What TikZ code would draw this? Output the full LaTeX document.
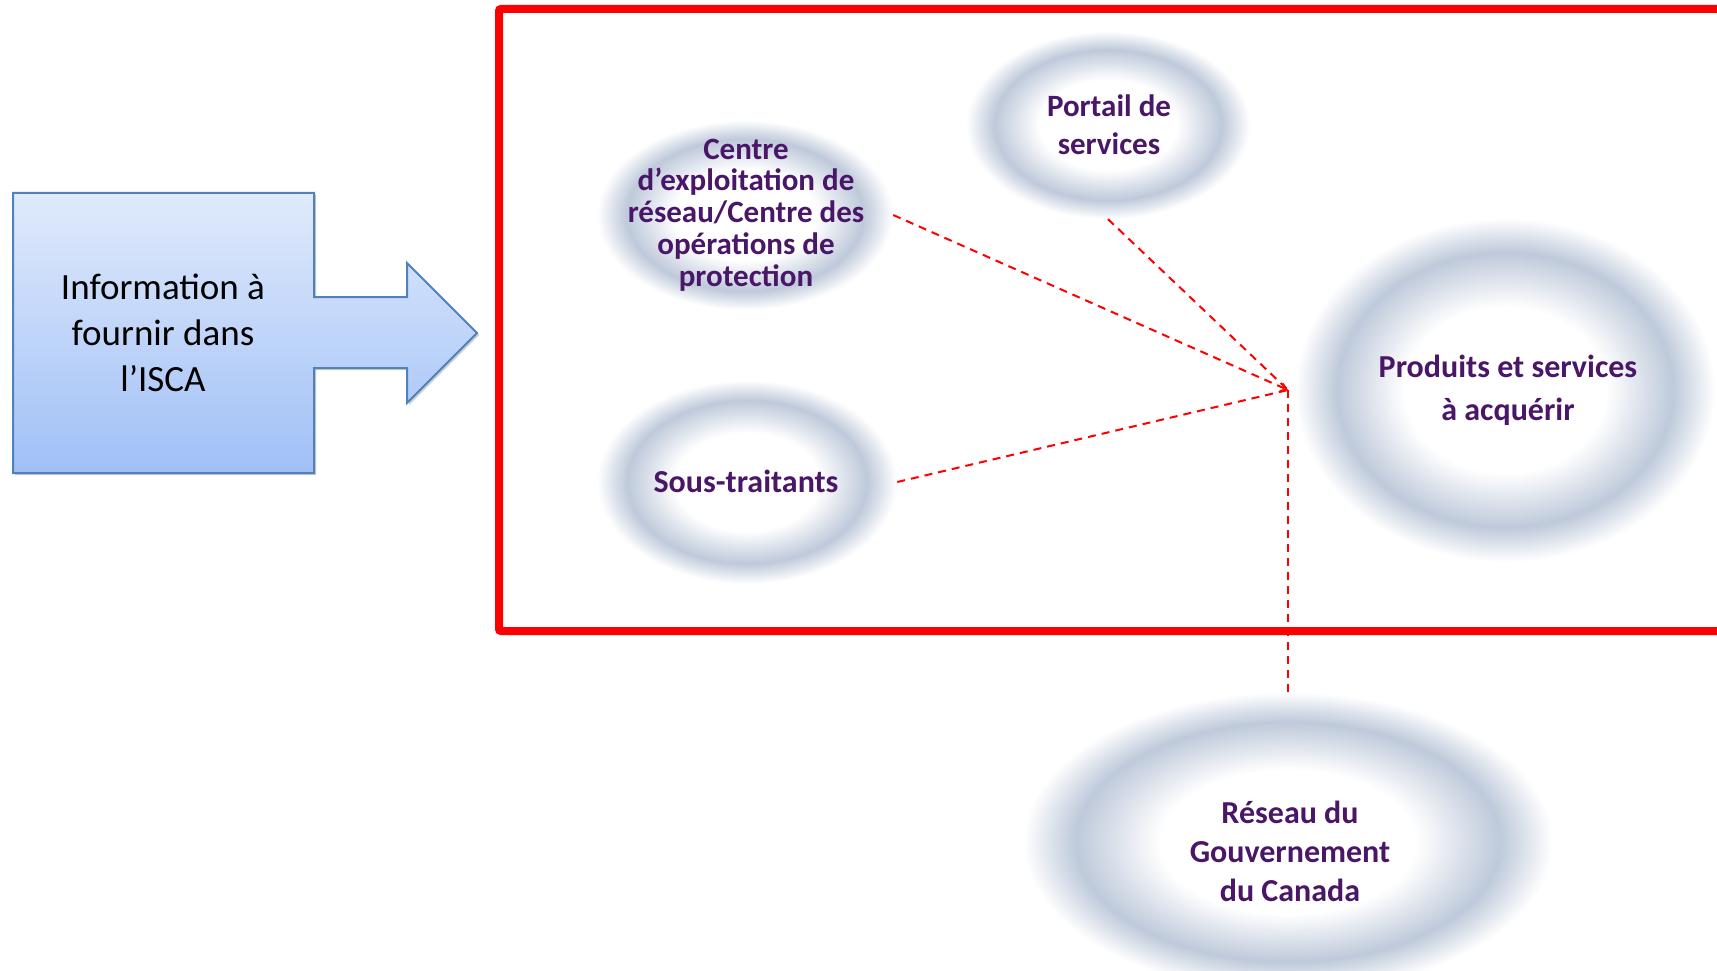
\documentclass[tikz,border=0pt]{standalone}
\usepackage{fontspec}
\setmainfont{Carlito}
\usetikzlibrary{shapes.geometric,arrows.meta,shadows}
\definecolor{glowc}{RGB}{190,201,218}
\definecolor{txtpurple}{RGB}{74,22,104}
\definecolor{boxtop}{RGB}{224,234,252}
\definecolor{boxbot}{RGB}{160,192,246}
\definecolor{boxline}{RGB}{79,129,189}
\pgfdeclareradialshading{glowshade}{\pgfpointorigin}{color(0bp)=(white); color(12bp)=(white); color(20bp)=(glowc); color(25bp)=(white); color(50bp)=(white)}
\begin{document}
\begin{tikzpicture}[x=1pt,y=-1pt,
  bubble/.style={ellipse, draw=none, shade, shading=glowshade, inner sep=0pt},
  lbl/.style={font=\bfseries\fontsize{32}{40}\selectfont, text=txtpurple, align=center},
  link/.style={draw=red, line width=2pt, dash pattern=on 8pt off 6pt},
  redframe/.style={draw=red, line width=8pt, rounded corners=2pt},
  bigarrow/.style={draw=boxline, line width=2pt, top color=boxtop, bottom color=boxbot,
    drop shadow={shadow xshift=2pt, shadow yshift=-2pt, opacity=0.2, fill=black}}]
\useasboundingbox (0,0) rectangle (1717,971);
\fill[white] (0,0) rectangle (1717,971);

% glow ellipses
\node[bubble, minimum width=296pt, minimum height=190pt] (centre) at (745,215) {};
\node[bubble, minimum width=284pt, minimum height=188pt] (portail) at (1108,125) {};
\node[bubble, minimum width=420pt, minimum height=344pt] (produits) at (1505,390) {};
\node[bubble, minimum width=300pt, minimum height=204pt] (sous) at (747,482) {};
\node[bubble, minimum width=530pt, minimum height=300pt] (reseau) at (1288,842) {};

% red frame
\draw[redframe] (499,9) rectangle (1745,631);

% labels
\node[lbl, font=\bfseries\fontsize{31}{31.8}\selectfont] (centreT) at (746,215) {Centre\\d’exploitation de\\réseau/Centre des\\opérations de\\protection};
\node[lbl, font=\bfseries\fontsize{31}{38}\selectfont] (portailT) at (1109,125) {Portail de\\services};
\node[lbl, font=\bfseries\fontsize{32}{42.7}\selectfont] (produitsT) at (1508,390) {Produits et services\\à acquérir};
\node[lbl] (sousT) at (746,481) {Sous-traitants};
\node[lbl, font=\bfseries\fontsize{32}{39}\selectfont] (reseauT) at (1290,851) {Réseau du\\Gouvernement\\du Canada};

% left block arrow
\path[bigarrow] (13,193) -- (314,193) -- (314,297) -- (407,297) -- (407,263) -- (477,333)
  -- (407,403) -- (407,368) -- (314,368) -- (314,473) -- (13,473) -- cycle;
\node[font=\fontsize{37}{46}\selectfont, align=center] (info) at (163,333) {Information à\\fournir dans\\l’ISCA};

% connectors
\coordinate (P) at (1288,390);
\draw[link, -{Straight Barb[length=6pt,width=8pt,line width=1.5pt]}] (centre.east) -- (P);
\draw[link] (portail.south) -- (P);
\draw[link] (sous.east) -- (P);
\draw[link] (reseau.north) -- (P);
\end{tikzpicture}
\end{document}
